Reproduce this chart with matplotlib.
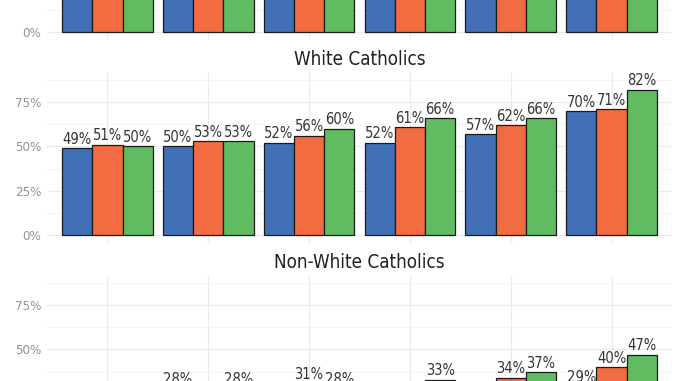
import numpy as np
import matplotlib.pyplot as plt
from matplotlib.ticker import FixedLocator, PercentFormatter

plt.rcParams['font.family'] = ['DejaVu Sans']
plt.rcParams['font.stretch'] = 'condensed'

# Data (share of each group, percent)
groups = ['A', 'B', 'C', 'D', 'E', 'F']
series = ['Series 1', 'Series 2', 'Series 3']
colors = ['#4170B6', '#F26B41', '#61BC61']

panels = ['All Catholics', 'White Catholics', 'Non-White Catholics']
all_cath = [[44, 46, 45], [45, 48, 48], [47, 50, 53], [46, 54, 58], [51, 55, 59], [62, 64, 73]]
white_cath = [[49, 51, 50], [50, 53, 53], [52, 56, 60], [52, 61, 66], [57, 62, 66], [70, 71, 82]]
nonwhite_cath = [[17, 20, 19], [28, 21, 28], [21, 31, 28], [19, 21, 33], [20, 34, 37], [29, 40, 47]]
values = [all_cath, white_cath, nonwhite_cath]

W, H = 678, 381
fig = plt.figure(figsize=(W / 100, H / 100), dpi=100)

# pixel geometry of the facets (top of middle panel at 73px, 203px apart)
left, right = 47, 672
ph = 170
tops = [73 - 203, 73, 73 + 203]

x = np.arange(1, len(groups) + 1)
bw = 0.3

for p, (name, vals) in enumerate(zip(panels, values)):
    top = tops[p]
    ax = fig.add_axes([left / W, 1 - (top + ph) / H, (right - left) / W, ph / H])
    vals = np.array(vals) / 100
    for j in range(len(series)):
        xs = x + (j - 1) * bw
        ax.bar(xs, vals[:, j], width=bw, color=colors[j], edgecolor='#1a1a1a',
               linewidth=0.9, zorder=3)
        for xi, v in zip(xs, vals[:, j]):
            ax.annotate(f"{round(v * 100)}%", (xi, v), xytext=(0, 1),
                        textcoords='offset points', ha='center', va='bottom',
                        fontsize=10.5, color='#333333', zorder=4)
    ax.set_xlim(0.4, 6.6)
    ax.set_ylim(-0.045, 0.914)
    ax.yaxis.set_major_locator(FixedLocator([0, 0.25, 0.5, 0.75]))
    ax.yaxis.set_minor_locator(FixedLocator([0.125, 0.375, 0.625, 0.875]))
    ax.yaxis.set_major_formatter(PercentFormatter(1.0, decimals=0))
    ax.set_xticks(x)
    ax.set_xticklabels([])
    ax.grid(True, which='major', color='#ebebeb', linewidth=0.9, zorder=0)
    ax.grid(True, which='minor', axis='y', color='#f4f4f4', linewidth=0.7, zorder=0)
    ax.tick_params(which='both', length=0)
    ax.tick_params(axis='y', labelsize=9.5, labelcolor='#939393', pad=4)
    for s in ax.spines.values():
        s.set_visible(False)
    ax.set_title(name, fontsize=13.5, color='#222222', pad=6)

fig.savefig('out.png', dpi=100)
